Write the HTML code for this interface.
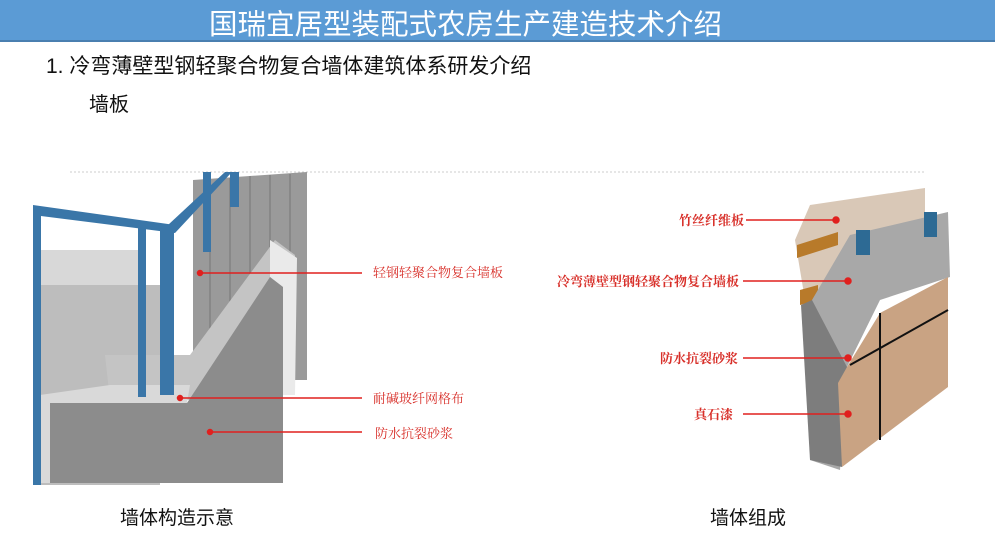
<!DOCTYPE html>
<html><head><meta charset="utf-8"><style>
html,body{margin:0;padding:0;width:995px;height:556px;overflow:hidden;background:#fff;font-family:"Liberation Sans","Noto Sans CJK SC",sans-serif}
.hd{position:absolute;left:0;top:0;width:995px;height:40px;background:#5b9bd5;border-bottom:2px solid #4a7fb0}
.t{position:absolute;white-space:nowrap}
</style></head><body>
<div class="hd"></div>
<div class="t" style="left:209px;top:2px;font-size:28.5px;color:#fff">国瑞宜居型装配式农房生产建造技术介绍</div>
<div class="t" style="left:46px;top:50px;font-size:21px;color:#111">1. 冷弯薄壁型钢轻聚合物复合墙体建筑体系研发介绍</div>
<div class="t" style="left:89px;top:88px;font-size:20px;color:#111">墙板</div>
<svg width="995" height="556" style="position:absolute;left:0;top:0">
<line x1="70" y1="172" x2="925" y2="172" stroke="#ccc" stroke-dasharray="2,2"/>
<rect x="40" y="250" width="100" height="60" fill="#d8d8d8"/>
<rect x="40" y="285" width="120" height="200" fill="#bdbdbd"/>
<polygon points="193,180 307,172 307,380 193,380" fill="#9a9a9a"/>
<g stroke="#777" stroke-width="1">
<line x1="210" y1="180" x2="210" y2="370"/><line x1="230" y1="178" x2="230" y2="360"/><line x1="250" y1="176" x2="250" y2="350"/><line x1="270" y1="175" x2="270" y2="340"/><line x1="290" y1="174" x2="290" y2="330"/></g>
<polygon points="105,355 190,355 275,240 295,255 295,380 190,400 110,400" fill="#c4c4c4"/>
<polygon points="270,240 297,258 295,395 283,395 283,287 270,277" fill="#eaeaea"/>
<polygon points="50,403 187,403 270,277 283,287 283,483 50,483" fill="#8c8c8c"/>
<polygon points="40,395 110,385 190,385 187,403 50,403 50,483 40,483" fill="#d9d9d9"/>
<g fill="#3a76a8">
<rect x="33" y="207" width="8" height="278"/>
<polygon points="33,205 175,225 175,233 33,215"/>
<polygon points="168,225 225,172 232,172 175,233"/>
<rect x="138" y="222" width="8" height="175"/>
<rect x="160" y="230" width="14" height="165"/>
<rect x="203" y="172" width="8" height="80"/>
<rect x="230" y="172" width="9" height="35"/>
</g>
<g stroke="#e0201e" stroke-width="1.5" fill="#e0201e">
<line x1="200" y1="273" x2="362" y2="273"/><circle cx="200" cy="273" r="2.5"/>
<line x1="180" y1="398" x2="362" y2="398"/><circle cx="180" cy="398" r="2.5"/>
<line x1="210" y1="432" x2="362" y2="432"/><circle cx="210" cy="432" r="2.5"/>
</g>
<polygon points="810,205 925,188 925,260 805,300 795,240" fill="#d9c8b7"/>
<polygon points="797,245 838,232 838,245 797,258" fill="#b87a2a"/>
<polygon points="800,290 818,285 818,300 800,305" fill="#b87a2a"/>
<polygon points="812,300 850,235 948,212 950,277 880,300 847,367 840,470 810,460" fill="#a8a8a8"/>
<polygon points="801,305 812,300 847,367 842,467 810,460" fill="#7d7d7d"/>
<polygon points="847,367 880,313 948,277 948,387 842,467 838,383" fill="#c9a383"/>
<line x1="880" y1="313" x2="880" y2="440" stroke="#111" stroke-width="2"/>
<line x1="850" y1="365" x2="948" y2="310" stroke="#111" stroke-width="2"/>
<rect x="856" y="230" width="14" height="25" fill="#2d6a94"/>
<rect x="924" y="212" width="13" height="25" fill="#2d6a94"/>
<g stroke="#e0201e" stroke-width="1.5" fill="#e0201e">
<line x1="746" y1="220" x2="836" y2="220"/><circle cx="836" cy="220" r="3"/>
<line x1="743" y1="281" x2="848" y2="281"/><circle cx="848" cy="281" r="3"/>
<line x1="743" y1="358" x2="848" y2="358"/><circle cx="848" cy="358" r="3"/>
<line x1="743" y1="414" x2="848" y2="414"/><circle cx="848" cy="414" r="3"/>
</g>
<g font-size="13" fill="#d8302a" font-family="Liberation Serif,Noto Serif CJK SC,serif">
<text x="373" y="277">轻钢轻聚合物复合墙板</text>
<text x="373" y="403">耐碱玻纤网格布</text>
<text x="375" y="438">防水抗裂砂浆</text>
<text x="679" y="225" font-weight="bold">竹丝纤维板</text>
<text x="557" y="286" font-weight="bold">冷弯薄壁型钢轻聚合物复合墙板</text>
<text x="660" y="363" font-weight="bold">防水抗裂砂浆</text>
<text x="694" y="419" font-weight="bold">真石漆</text>
</g>
</svg>
<div class="t" style="left:120px;top:503px;font-size:19px;color:#111">墙体构造示意</div>
<div class="t" style="left:710px;top:503px;font-size:19px;color:#111">墙体组成</div>
</body></html>
